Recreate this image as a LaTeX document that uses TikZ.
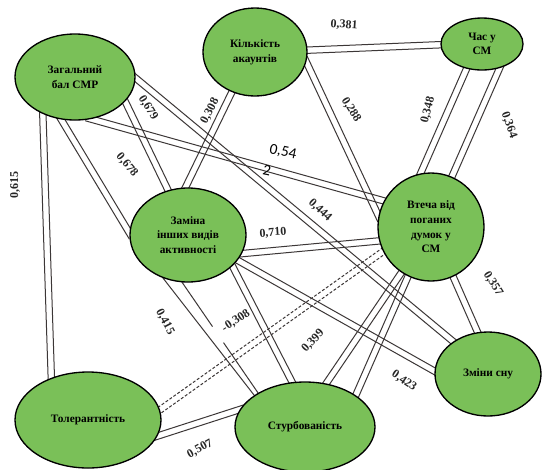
\documentclass[tikz,border=0pt]{standalone}
\usepackage{fontspec}
\setmainfont{Liberation Serif}
\newfontfamily\numfont{Carlito}
\usetikzlibrary{shapes.geometric,calc}
\pgfdeclarelayer{bg}
\pgfsetlayers{bg,main}
\definecolor{nodegreen}{RGB}{122,192,88}
\definecolor{lncol}{RGB}{60,55,55}
\newcommand\pairoff{2.4pt}
\newcommand\pairline[3][]{%
  \draw[ln,#1] ($(#2)!\pairoff!90:(#3)$) -- ($(#3)!\pairoff!-90:(#2)$);
  \draw[ln,#1] ($(#2)!\pairoff!-90:(#3)$) -- ($(#3)!\pairoff!90:(#2)$);}
\begin{document}
\begin{tikzpicture}[x=0.75pt,y=-0.75pt,
  ell/.style={ellipse,draw=black,line width=1pt,fill=nodegreen,inner sep=0pt,align=center,
    font=\bfseries\fontsize{8.5}{11}\selectfont,text=black},
  ln/.style={draw=lncol,line width=0.75pt,shorten <=-4pt,shorten >=-4pt},
  dsh/.style={dash pattern=on 2.2pt off 1.4pt},
  lbl/.style={font=\bfseries\fontsize{9}{10}\selectfont,inner sep=0pt,text=black!85}]
\useasboundingbox (0,0) rectangle (542,469);
% nodes
\node[ell,minimum width=90pt,minimum height=64.5pt] (zag) at (75,77) {Загальний\\бал СМР};
\node[ell,minimum width=78pt,minimum height=66pt] (kil) at (255,52) {Кількість\\акаунтів};
\node[ell,minimum width=61.5pt,minimum height=39pt] (chas) at (482,44) {Час у\\СМ};
\node[ell,minimum width=79.5pt,minimum height=81pt] (vt) at (431,227) {Втеча від\\поганих\\думок у\\СМ};
\node[ell,minimum width=87pt,minimum height=70.5pt] (zam) at (188,235) {Заміна\\інших видів\\активності};
\node[ell,minimum width=109.5pt,minimum height=72pt] (tol) at (88,420) {Толерантність};
\node[ell,minimum width=105pt,minimum height=67.5pt] (stu) at (305,427) {Стурбованість};
\node[ell,minimum width=79.5pt,minimum height=63pt] (zm) at (488,374) {Зміни сну};
% connectors
\begin{pgfonlayer}{bg}
\fill[white] (0,0) rectangle (542,469);
\pairline{zag.229}{tol.131}
\pairline{zag.-26}{zam.114}
\pairline{zag.252}{zam.178}
\pairline{zag.-1}{zm.137}
\pairline{zag.-69}{vt.151}
\pairline{kil.2}{chas.181}
\pairline{kil.240}{zam.93}
\pairline{kil.-11}{vt.168}
\pairline{chas.238}{vt.101}
\pairline{chas.-54}{stu.32}
\pairline{zam.-19}{vt.195}
\pairline{zam.-27}{zm.177}
\pairline{zam.-35}{stu.106}
\pairline{vt.237}{stu.64}
\pairline{vt.-66}{zm.104}
\pairline[dsh]{tol.8}{vt.207}
\pairline{tol.-13}{stu.165}
\draw[ln] (zam.240) -- (stu.148);
\draw[ln,shorten >=0pt] (zam.263) -- ($(zam.263)!0.40!(stu.144)$);
\draw[ln,shorten <=0pt] ($(zam.263)!0.545!(stu.144)$) -- (stu.144);
\end{pgfonlayer}
% labels
\node[lbl,rotate=90] (l615) at (15,185) {0,615};
\node[lbl,rotate=-58] (l679) at (148,108) {0,679};
\node[lbl,rotate=-50] (l678) at (127,165) {0,678};
\node[lbl,rotate=62] (l308a) at (210,111) {0,308};
\node[lbl,rotate=-4] (l381) at (344,25) {0,381};
\node[lbl,rotate=-58] (l288) at (351,110) {0,288};
\node[lbl,rotate=76] (l348) at (428,110) {0,348};
\node[lbl,rotate=-70] (l364) at (509,125) {0,364};
\node[inner sep=0pt,font=\numfont\fontsize{11.5}{12}\selectfont,rotate=-12] (l54) at (283,152) {0,54};
\node[inner sep=0pt,font=\numfont\fontsize{11.5}{12}\selectfont,rotate=-12] (l2) at (267,170) {2};
\node[lbl,rotate=-43] (l444) at (320,210) {0,444};
\node[lbl,rotate=4] (l710) at (273,233) {0,710};
\node[lbl,rotate=-58] (l357) at (493,284) {0,357};
\node[lbl,rotate=-62] (l415) at (165,322) {0,415};
\node[lbl,rotate=33] (l308b) at (236,321) {-0,308};
\node[lbl,rotate=47] (l399) at (313,341) {0,399};
\node[lbl,rotate=-34] (l423) at (404,381) {0,423};
\node[lbl,rotate=29] (l507) at (200,449) {0,507};
\end{tikzpicture}
\end{document}
